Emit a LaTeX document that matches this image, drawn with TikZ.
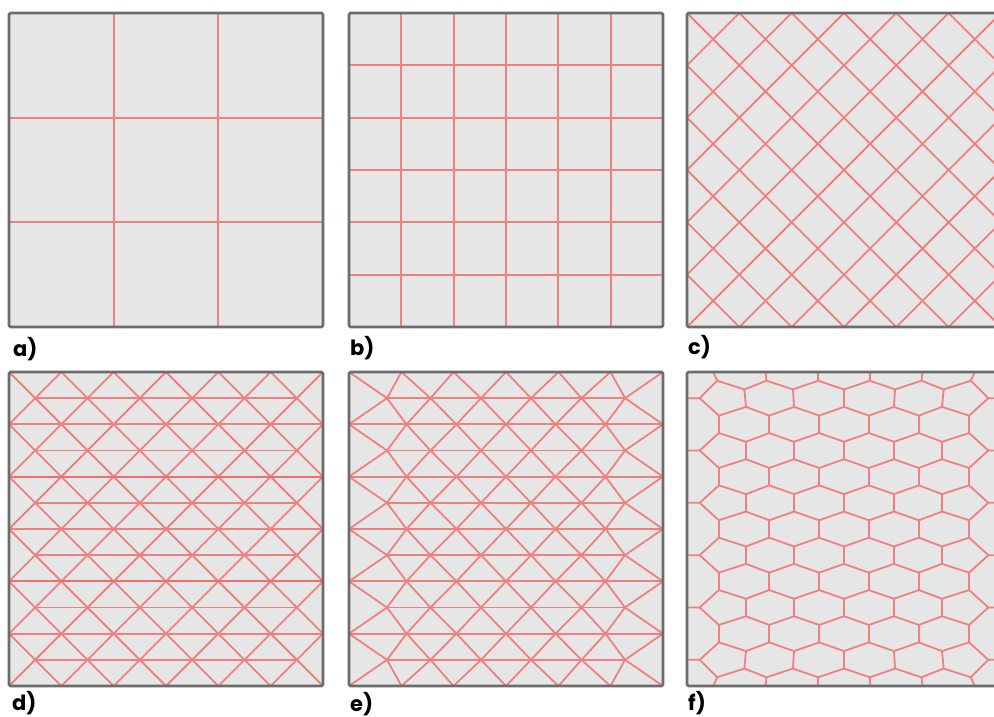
\documentclass[tikz,border=0pt]{standalone}
\usepackage{fontspec}
\newfontfamily\lblfont{Poppins}
\usetikzlibrary{calc}
\definecolor{meshred}{RGB}{240,128,128}
\definecolor{panelfill}{RGB}{230,230,230}
\definecolor{panelframe}{RGB}{108,108,108}
\tikzset{
  meshline/.style={draw=meshred, line width=1.8pt, line join=round},
  meshbold/.style={draw=meshred!85!red, line width=2.1pt},
  frame/.style={draw=panelframe, line width=2.7pt, rounded corners=1.5pt},
  lbl/.style={font=\lblfont\bfseries\fontsize{21}{21}\selectfont, anchor=base west, inner sep=0pt, text=black}
}
\def\Tl{{0,52.5,104.5,157,209.5,261.5,314}}
\def\El{{0,57.5,107.5,157,206.5,256.5,314}}
\def\Ol{{38,81.5,132,182,232.5,276}}
\newcommand\meshnodes[1]{%
  \foreach \j in {0,...,6}{%
    \pgfmathsetmacro\xt{\Tl[\j]}%
    \pgfmathsetmacro\xe{\El[\j]}%
    \coordinate (#1-0-\j) at (\xt,0);%
    \coordinate (#1-12-\j) at (\xt,314);%
    \foreach \k in {2,4,...,10}{\coordinate (#1-\k-\j) at (\xe,\k*26.16667);}%
  }%
  \foreach \j in {0,...,5}{%
    \pgfmathsetmacro\xo{\Ol[\j]}%
    \foreach \k in {1,3,...,11}{\coordinate (#1-\k-\j) at (\xo,\k*26.16667);}%
  }%
}
\begin{document}
\begin{tikzpicture}[x=1pt,y=-1pt]
\useasboundingbox (0,0) rectangle (994,717);
\clip (0,0) rectangle (994,717);

% ---------- panel a ----------
\fill[panelfill] (9,13) rectangle (323,327);
\begin{scope}[shift={(9,13)}]
  \clip (0,0) rectangle (314,314);
  \foreach \t in {104.667,209.333}{
    \draw[meshline] (\t,0) -- (\t,314);
    \draw[meshline] (0,\t) -- (314,\t);
  }
\end{scope}
\draw[frame] (9,13) rectangle (323,327);

% ---------- panel b ----------
\fill[panelfill] (349,13) rectangle (663,327);
\begin{scope}[shift={(349,13)}]
  \clip (0,0) rectangle (314,314);
  \foreach \i in {1,...,5}{
    \draw[meshline] (\i*52.333,0) -- (\i*52.333,314);
    \draw[meshline] (0,\i*52.333) -- (314,\i*52.333);
  }
\end{scope}
\draw[frame] (349,13) rectangle (663,327);

% ---------- panel c ----------
\fill[panelfill] (687,13) rectangle (1001,327);
\begin{scope}[shift={(687,13)}]
  \clip (0,0) rectangle (314,314);
  \foreach \i in {-6,...,12}{
    \draw[meshline] (\i*52.333,0) -- ++(314,314);
    \draw[meshline] (\i*52.333,0) -- ++(-314,314);
  }
\end{scope}
\draw[frame] (687,13) rectangle (1001,327);

% ---------- panel d ----------
\fill[panelfill] (9,372) rectangle (323,686);
\begin{scope}[shift={(9,372)}]
  \clip (0,0) rectangle (314,314);
  \foreach \i in {-6,...,12}{
    \draw[meshline] (\i*52.333,0) -- ++(314,314);
    \draw[meshline] (\i*52.333,0) -- ++(-314,314);
  }
  \foreach \k in {2,6,10}{\draw[meshline] (0,\k*26.16667) -- (314,\k*26.16667);}
  \foreach \k in {4,8}{\draw[meshbold] (0,\k*26.16667) -- (314,\k*26.16667);}
  \foreach \k in {1,3,...,11}{\draw[meshline] (26.1667,\k*26.16667) -- (287.8333,\k*26.16667);}
\end{scope}
\draw[frame] (9,372) rectangle (323,686);

% ---------- panel e ----------
\fill[panelfill] (349,372) rectangle (663,686);
\begin{scope}[shift={(349,372)}]
  \meshnodes{e}
  \foreach \k [evaluate=\k as \km using int(\k-1), evaluate=\k as \kp using int(\k+1)] in {1,3,...,11}{
    \draw[meshline] (e-\k-0) -- (e-\k-5);
    \foreach \j [evaluate=\j as \jp using int(\j+1)] in {0,...,5}{
      \draw[meshline] (e-\km-\j) -- (e-\k-\j) -- (e-\km-\jp);
      \draw[meshline] (e-\kp-\j) -- (e-\k-\j) -- (e-\kp-\jp);
    }
  }
  \foreach \k in {2,4,...,10}{\draw[meshline] (e-\k-0) -- (e-\k-6);}
\end{scope}
\draw[frame] (349,372) rectangle (663,686);

% ---------- panel f ----------
\fill[panelfill] (687,372) rectangle (1001,686);
\begin{scope}[shift={(687,372)}]
  \meshnodes{f}
  \foreach \k [evaluate=\k as \km using int(\k-1), evaluate=\k as \kp using int(\k+1)] in {1,3,...,11}{
    \foreach \j [evaluate=\j as \jp using int(\j+1)] in {0,...,5}{
      \coordinate (fA-\k-\j) at ($0.333333*(f-\km-\j)+0.333333*(f-\km-\jp)+0.333333*(f-\k-\j)$);
      \coordinate (fB-\k-\j) at ($0.333333*(f-\kp-\j)+0.333333*(f-\kp-\jp)+0.333333*(f-\k-\j)$);
    }
    \foreach \j [evaluate=\j as \jp using int(\j+1)] in {0,...,4}{
      \coordinate (fU-\k-\j) at ($0.333333*(f-\k-\j)+0.333333*(f-\k-\jp)+0.333333*(f-\km-\jp)$);
      \coordinate (fD-\k-\j) at ($0.333333*(f-\k-\j)+0.333333*(f-\k-\jp)+0.333333*(f-\kp-\jp)$);
    }
    \coordinate (fL-\k) at ($0.333333*(f-\km-0)+0.333333*(f-\kp-0)+0.333333*(f-\k-0)$);
    \coordinate (fR-\k) at ($0.333333*(f-\km-6)+0.333333*(f-\kp-6)+0.333333*(f-\k-5)$);
    \coordinate (fLm-\k) at ($(f-\km-0)!0.5!(f-\kp-0)$);
    \coordinate (fRm-\k) at ($(f-\km-6)!0.5!(f-\kp-6)$);
  }
  \foreach \k in {1,3,...,11}{
    \foreach \j [evaluate=\j as \jp using int(\j+1)] in {0,...,4}{
      \draw[meshline] (fA-\k-\j) -- (fU-\k-\j) -- (fA-\k-\jp);
      \draw[meshline] (fB-\k-\j) -- (fD-\k-\j) -- (fB-\k-\jp);
      \draw[meshline] (fU-\k-\j) -- (fD-\k-\j);
    }
    \draw[meshline] (fA-\k-0) -- (fL-\k) -- (fB-\k-0);
    \draw[meshline] (fA-\k-5) -- (fR-\k) -- (fB-\k-5);
    \draw[meshline] (fL-\k) -- (fLm-\k);
    \draw[meshline] (fR-\k) -- (fRm-\k);
  }
  \foreach \k [evaluate=\k as \kk using int(\k+2)] in {1,3,...,9}{
    \foreach \j in {0,...,5}{\draw[meshline] (fB-\k-\j) -- (fA-\kk-\j);}
  }
  \foreach \j [evaluate=\j as \jp using int(\j+1)] in {0,...,5}{
    \coordinate (fT-\j) at ($(f-0-\j)!0.5!(f-0-\jp)$);
    \coordinate (fBt-\j) at ($(f-12-\j)!0.5!(f-12-\jp)$);
    \draw[meshline] (fA-1-\j) -- (fT-\j);
    \draw[meshline] (fB-11-\j) -- (fBt-\j);
  }
\end{scope}
\draw[frame] (687,372) rectangle (1001,686);

% ---------- labels ----------
\node[lbl] (la) at (13,356) {a)};
\node[lbl] (lb) at (350,355) {b)};
\node[lbl] (lc) at (688,354) {c)};
\node[lbl] (ld) at (12,710) {d)};
\node[lbl] (le) at (350,711) {e)};
\node[lbl] (lf) at (688,710) {f)};
\end{tikzpicture}
\end{document}
